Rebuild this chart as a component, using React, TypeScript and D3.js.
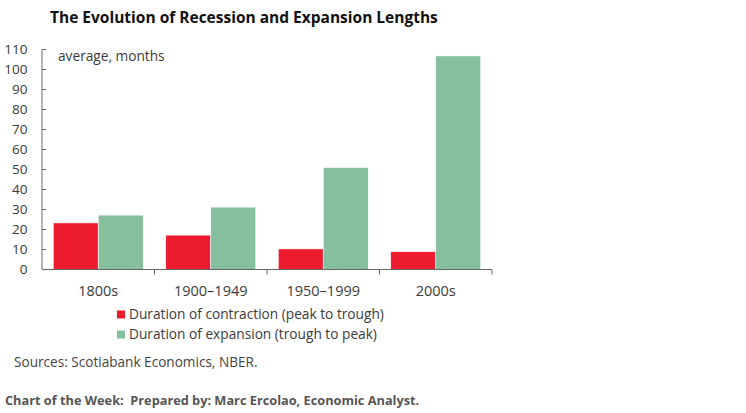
import React from "react";
import * as d3 from "d3";

const categories = ["1800s", "1900–1949", "1950–1999", "2000s"];
const contraction = [23.3, 17.2, 10.3, 8.9];
const expansion = [27.2, 31.2, 51.0, 106.8];
const yTicks = [0, 10, 20, 30, 40, 50, 60, 70, 80, 90, 100, 110];
const seriesNames = [
  "Duration of contraction (peak to trough)",
  "Duration of expansion (trough to peak)",
];
const colors = ["#ec1c2e", "#86bf9e"];

const W = 746;
const H = 413;
const left = 42;
const right = 492;
const top = 49.5;
const bottom = 269.5;
const font = "'Open Sans', Lato, sans-serif";

const App = () => {
  const x = d3
    .scaleBand<string>()
    .domain(categories)
    .range([left, right])
    .paddingInner(0.2)
    .paddingOuter(0.1);
  const step = x.step();
  const inner = d3
    .scaleBand<number>()
    .domain([0, 1])
    .range([0, x.bandwidth()]);
  const y = d3.scaleLinear().domain([0, 110]).range([bottom, top]);
  const series = [contraction, expansion];
  const boundaries = categories.map((_, i) => left + step * (i + 1));

  return (
    <svg
      width={W}
      height={H}
      style={{ position: "absolute", left: 0, top: 0, background: "#fff" }}
    >
      <text x={50} y={23} fontFamily={font} fontWeight="bold" fontSize={15.5} fill="#111">
        The Evolution of Recession and Expansion Lengths
      </text>

      {series.map((vals, s) =>
        vals.map((v, i) => (
          <rect
            key={`${s}-${i}`}
            x={x(categories[i])! + inner(s)!}
            y={y(v)}
            width={inner.bandwidth()}
            height={y(0) - y(v)}
            fill={colors[s]}
            stroke="#fff"
            strokeWidth={0.6}
          />
        ))
      )}

      {/* y axis */}
      <line x1={left} x2={left} y1={top} y2={bottom} stroke="#666" strokeWidth={1} />
      {yTicks.map((t) => (
        <g key={t}>
          <line x1={left} x2={left + 4} y1={y(t)} y2={y(t)} stroke="#666" />
          <text
            x={27.5}
            y={y(t)}
            dy="0.35em"
            textAnchor="end"
            fontFamily={font}
            fontSize={13.5}
            fill="#3a3a3a"
          >
            {t}
          </text>
        </g>
      ))}

      {/* x axis */}
      <line x1={left} x2={right} y1={bottom} y2={bottom} stroke="#666" />
      {boundaries.map((b) => (
        <line key={b} x1={b} x2={b} y1={bottom} y2={bottom + 5} stroke="#666" />
      ))}
      {categories.map((c) => (
        <text
          key={c}
          x={x(c)! + x.bandwidth() / 2}
          y={291}
          dy="0.35em"
          textAnchor="middle"
          fontFamily={font}
          fontSize={14.5}
          fill="#3a3a3a"
        >
          {c}
        </text>
      ))}

      <text x={58} y={56} dy="0.35em" fontFamily={font} fontSize={13.7} fill="#3a3a3a">
        average, months
      </text>

      {seriesNames.map((n, i) => (
        <g key={n} transform={`translate(117, ${314.5 + i * 20})`}>
          <rect x={0} y={-4} width={8} height={8} fill={colors[i]} />
          <text x={12} y={0} dy="0.35em" fontFamily={font} fontSize={13.7} fill="#3a3a3a">
            {n}
          </text>
        </g>
      ))}

      <text x={14} y={362} dy="0.35em" fontFamily={font} fontSize={13.6} fill="#444">
        Sources: Scotiabank Economics, NBER.
      </text>
      <text
        x={5}
        y={405}
        fontFamily={font}
        fontWeight="bold"
        fontSize={12.75}
        fill="#555"
        style={{ whiteSpace: "pre" }}
      >
        {"Chart of the Week:  Prepared by: Marc Ercolao, Economic Analyst."}
      </text>
    </svg>
  );
};

export default App;
